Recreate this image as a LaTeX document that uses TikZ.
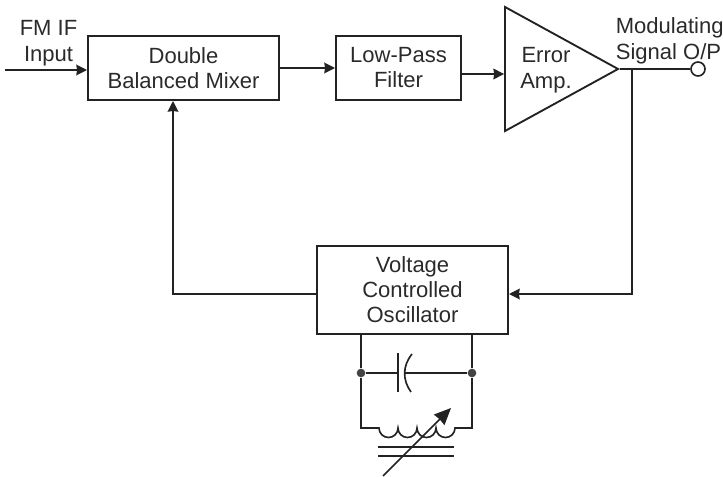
\documentclass[tikz,border=0pt]{standalone}
\usepackage{fontspec}
\setmainfont{Liberation Sans}
\usetikzlibrary{arrows.meta, positioning, shapes.geometric, calc}
\definecolor{cink}{HTML}{222222}
\definecolor{ctext}{HTML}{2A2A2A}
\tikzset{
  every picture/.style={line width=1.4pt},
  box/.style={draw=cink, rectangle, align=center, text=ctext, inner sep=0pt, line width=1.7pt, font=\fontsize{18.8}{21.3}\selectfont},
  arrow/.style={-{Stealth[length=3.2mm, width=3.2mm, inset=0.6pt]}, draw=cink, line width=1.4pt},
  wire/.style={draw=cink, line width=1.4pt},
  label/.style={align=left, text=ctext, inner sep=0pt, font=\fontsize{18.8}{21.8}\selectfont},
  dot/.style={circle, fill=cink!85, inner sep=0pt, minimum size=0.26cm},
  port/.style={circle, draw=cink, fill=white, inner sep=0pt, line width=1.4pt, minimum size=0.42cm},
  ampbox/.style={draw=cink, isosceles triangle, isosceles triangle apex angle=57.5, inner sep=0pt, minimum height=3.39cm, line width=1.6pt},
}
\begin{document}
\begin{tikzpicture}
  \useasboundingbox (0,0) rectangle (21.69,14.28);
  % forward path
  \node[box, minimum width=5.73cm, minimum height=1.92cm] (mixer) at (5.505,12.24) {Double\\Balanced Mixer};
  \node[box, minimum width=3.75cm, minimum height=1.92cm] (lpf) at (11.955,12.24) {Low-Pass\\Filter};
  \node[ampbox, anchor=apex] (amp) at (18.6,12.21) {};
  \node[label, align=center] (amptext) at (16.38,12.17) {Error\\Amp.};
  \node[port] (out) at (20.94,12.21) {};
  \coordinate (in) at (0.15,12.18);
  \coordinate (lpfout) at (13.8,12.06);
  \coordinate (tap) at (18.96,12.21);
  \node[label, align=center] (inlabel) at (1.455,12.99) {FM IF\\Input};
  \node[label, anchor=west] (outlabel) at (18.45,13.06) {Modulating\\Signal O/P};
  \draw[arrow] (in) -- (in -| mixer.west);
  \draw[arrow] (mixer) -- (lpf);
  \draw[arrow] (lpfout -| lpf.east) -- (lpfout -| amp.lower side);
  \draw[wire] (amp.apex) -- (out);
  % feedback
  \node[box, minimum width=5.73cm, minimum height=2.64cm] (vco) at (12.375,5.58) {Voltage\\Controlled\\Oscillator};
  \coordinate (fb) at (18.96,5.46);
  \coordinate (back) at (5.19,5.46);
  \draw[arrow] (tap) -- (fb) -- (fb -| vco.east);
  \draw[arrow] (back -| vco.west) -- (back) -- (back |- mixer.south);
  % tank circuit
  \node[dot] (tl) at (10.83,3.09) {};
  \node[dot] (tr) at (14.16,3.09) {};
  \coordinate (cl) at (10.83,1.44);
  \coordinate (cr) at (14.16,1.44);
  \draw[wire] (tl |- vco.south) -- (tl) -- (cl) -- (11.37,1.44) arc (180:360:0.285) arc (180:360:0.285) arc (180:360:0.285) arc (180:360:0.285) -- (cr) -- (tr) -- (tr |- vco.south);
  \draw[wire] (tl) -- (11.94,3.09);
  \draw[wire] (11.94,3.69) -- (11.94,2.52);
  \draw[wire] (12.36,3.66) .. controls (12.07,3.3) and (12.07,2.88) .. (12.33,2.52);
  \draw[wire] (12.15,3.09) -- (tr);
  % core and tuning arrow
  \draw[wire] (11.34,0.87) -- (13.62,0.87);
  \draw[wire] (11.34,0.6) -- (13.62,0.6);
  \coordinate (tunea) at (11.49,0);
  \coordinate (tuneb) at (13.53,2.04);
  \draw[arrow, -{Stealth[length=5mm, width=4.4mm, inset=0.6pt]}] (tunea) -- (tuneb);
\end{tikzpicture}
\end{document}
